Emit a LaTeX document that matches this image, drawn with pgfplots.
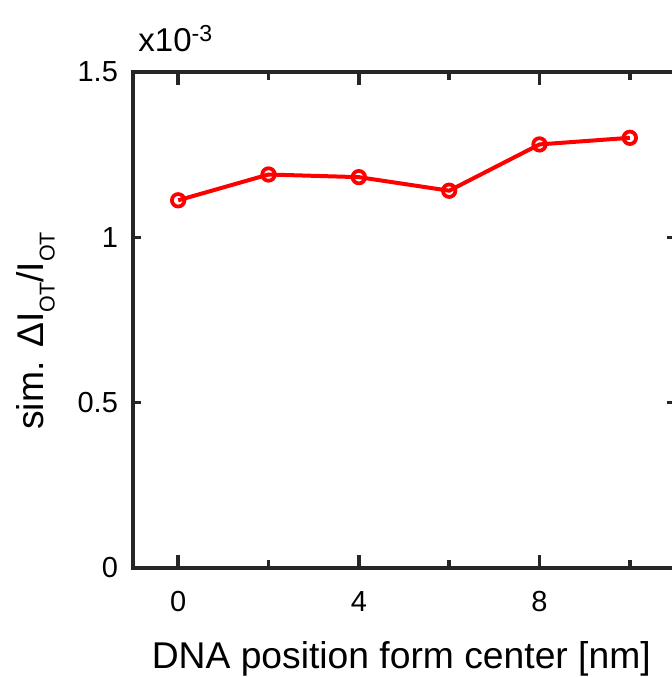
\documentclass[border=0pt]{standalone}
\usepackage{pgfplots}
\pgfplotsset{compat=1.18}
\usepackage{fontspec}
\setmainfont{Liberation Sans}
\definecolor{axgray}{RGB}{38,38,38}
\newcommand{\sub}[1]{\raisebox{-0.3em}{\fontsize{8.6}{9}\selectfont #1}}

\begin{document}
\begin{tikzpicture}
\begin{axis}[
  name=ax,
  scale only axis,
  width=216.8pt, height=198.4pt,
  xmin=-1, xmax=11, ymin=0, ymax=1.5,
  xtick={0,4,8}, minor xtick={2,6,10},
  ytick={0,0.5,1,1.5},
  minor ytick={0,0.5,1,1.5},
  major y tick style={draw=none},
  major tick length=5.2pt, minor tick length=3.2pt,
  tick align=inside,
  axis line style={axgray, line width=1.4pt},
  every tick/.append style={axgray, line width=1.4pt},
  /pgf/number format/assume math mode=true,
  tick label style={font=\fontsize{11.6}{13}\selectfont, text=black},
  xticklabel style={yshift=-5.9pt},
  yticklabel style={xshift=-2.5pt},
  xlabel={DNA position form center [nm]},
  ylabel={sim. ΔI\sub{OT}/I\sub{OT}},
  xlabel style={font=\fontsize{14.9}{16}\selectfont, text=black,
    at={(axis description cs:0.495,0)}, anchor=base, yshift=-40pt},
  ylabel style={font=\fontsize{14.9}{16}\selectfont, text=black,
    at={(axis description cs:-0.128,0.478)}, anchor=south},
  clip=false,
]
\addplot[red, line width=1.6pt, mark=o, mark size=2.5pt,
  mark options={fill=white, line width=1.5pt, solid}]
  coordinates {(0,1.112) (2,1.190) (4,1.182) (6,1.141) (8,1.281) (10,1.301)};
\node[anchor=base west, font=\fontsize{13.2}{15}\selectfont, inner sep=0pt]
  at ([xshift=2pt, yshift=8pt]rel axis cs:0,1) {x10\textsuperscript{-3}};
\end{axis}
\pgfresetboundingbox
\path[use as bounding box] ([xshift=-53.2pt, yshift=-43.6pt]ax.south west)
  rectangle ([xshift=-1.6pt, yshift=28.8pt]ax.north east);
\end{tikzpicture}
\end{document}
